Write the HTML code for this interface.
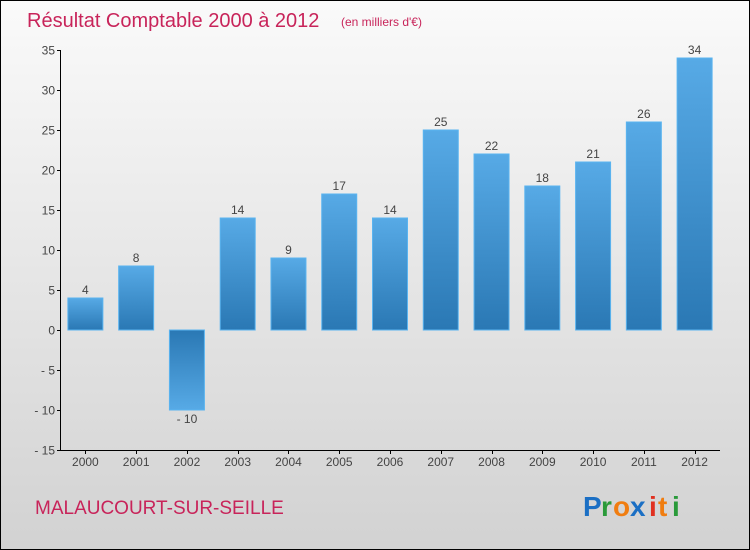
<!DOCTYPE html>
<html><head><meta charset="utf-8"><style>
html,body{margin:0;padding:0;}
body{width:750px;height:550px;overflow:hidden;font-family:"Liberation Sans",sans-serif;}
#wrap{position:relative;width:748px;height:548px;border:1px solid #000;background:linear-gradient(#fafafa,#d2d2d2);}
</style></head><body>
<div id="wrap">
<svg id="chart" width="748" height="548" viewBox="1 1 748 548" style="position:absolute;left:0;top:0">
<defs>
<linearGradient id="gpos" x1="0" y1="0" x2="0" y2="1"><stop offset="0" stop-color="#57aae6"/><stop offset="1" stop-color="#2a78b4"/></linearGradient>
<linearGradient id="gneg" x1="0" y1="0" x2="0" y2="1"><stop offset="0" stop-color="#2a78b4"/><stop offset="1" stop-color="#57aae6"/></linearGradient>
</defs>
<text x="27" y="27" font-size="20" fill="#c8245a">Résultat Comptable 2000 à 2012</text>
<text x="341" y="26" font-size="12" fill="#c8245a">(en milliers d'€)</text>
<g id="axes"></g>
<g id="bars"></g>
<text x="35" y="514" font-size="19" fill="#c8245a">MALAUCOURT-SUR-SEILLE</text>
<g font-size="28" font-weight="bold">
<text x="583" y="516" fill="#1b6fc4">P</text><text x="601" y="516" fill="#2a9a3a">r</text><text x="613" y="516" fill="#f07d10">o</text><text x="630" y="516" fill="#1b6fc4">x</text><text x="649" y="516" fill="#e03020">i</text><text x="658" y="516" fill="#f07d10">t</text><text x="672" y="516" fill="#2a9a3a">i</text>
</g>
</svg>
</div>
<script>
const categories=["2000","2001","2002","2003","2004","2005","2006","2007","2008","2009","2010","2011","2012"];
const values=[4,8,-10,14,9,17,14,25,22,18,21,26,34];
const yTicks=[35,30,25,20,15,10,5,0,-5,-10,-15];
const NS="http://www.w3.org/2000/svg";
const x0=60,x1=720,yTop=50,yBot=450,vMax=35,vMin=-15;
const step=(x1-x0)/categories.length;
function y(v){return yBot-(v-vMin)*(yBot-yTop)/(vMax-vMin);}
function xc(i){return x0+step*(i+0.5);}
function mk(tag,attrs,parent){const e=document.createElementNS(NS,tag);for(const k in attrs)e.setAttribute(k,attrs[k]);parent.appendChild(e);return e;}
const axes=document.getElementById('axes'),bars=document.getElementById('bars');
let a=mk('line',{x1:x0+0.5,y1:yTop,x2:x0+0.5,y2:yBot+0.5,stroke:'#000'},axes);


a=mk('line',{x1:x0,y1:yBot+0.5,x2:x1,y2:yBot+0.5,stroke:'#000'},axes);


yTicks.forEach(t=>{const yy=Math.round(y(t))+0.5;
mk('line',{x1:x0-3,y1:yy,x2:x0+0.5,y2:yy,stroke:'#000'},axes);
const tx=mk('text',{x:x0-5,y:yy+4,'font-size':12,'text-anchor':'end',fill:'#444'},axes);
tx.textContent=t<0?'- '+(-t):t;

});
categories.forEach((c,i)=>{const cx=xc(i);
mk('line',{x1:Math.round(cx)+0.5,y1:yBot,x2:Math.round(cx)+0.5,y2:yBot+4,stroke:'#000'},axes);
const tx=mk('text',{x:cx,y:yBot+16,'font-size':12,'text-anchor':'middle',fill:'#444'},axes);
tx.textContent=c;


const v=values[i],top=Math.min(y(v),y(0)),h=Math.abs(y(v)-y(0));
const r=mk('rect',{x:cx-17.5,y:top,width:35,height:h,fill:v>=0?'url(#gpos)':'url(#gneg)',stroke:'#5ab4f0','stroke-width':1},bars);


const l=mk('text',{x:cx,y:v>=0?y(v)-4:y(v)+13,'font-size':12,'text-anchor':'middle',fill:'#444'},bars);
l.textContent=v<0?'- '+(-v):v;

});
</script>
</body></html>
